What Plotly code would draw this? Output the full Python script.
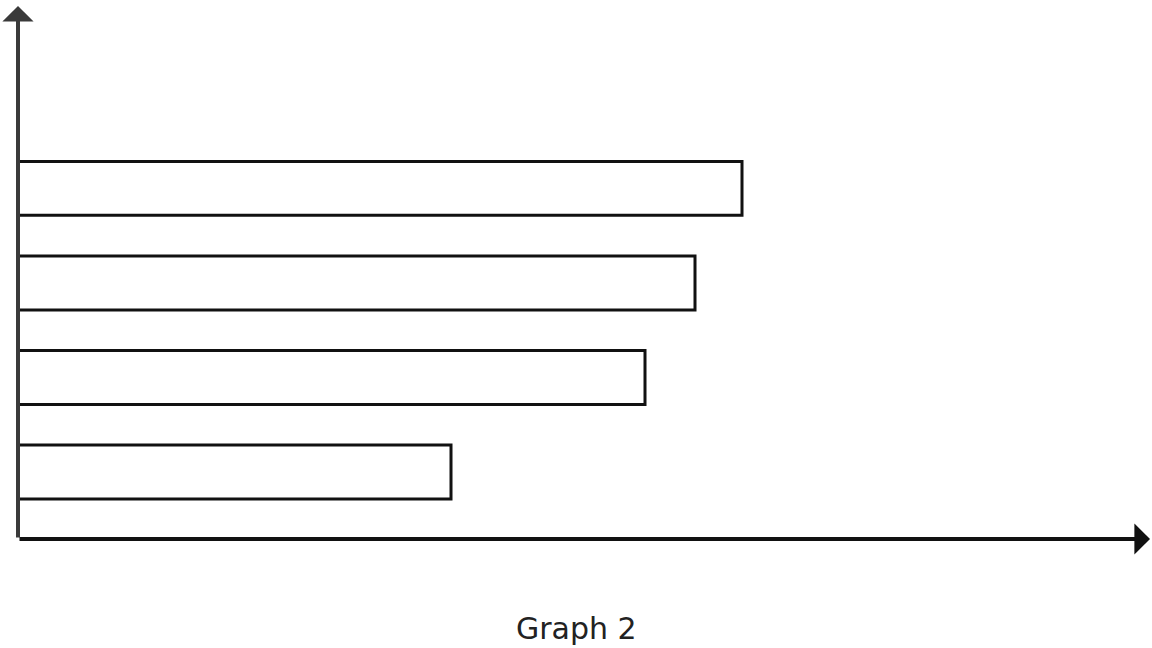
import plotly.graph_objects as go

# Data (bottom to top)
categories = ["D", "C", "B", "A"]
values = [43.3, 62.7, 67.7, 72.4]
title_text = "Graph 2"

X_MAX = 113.2
Y_MIN, Y_MAX = -0.709, 4.93

fig = go.Figure()
fig.add_trace(go.Bar(
    y=categories, x=values, orientation="h",
    marker=dict(color="white", line=dict(color="#111111", width=3)),
    width=0.57, hoverinfo="skip",
))

fig.add_annotation(x=0, y=Y_MAX, ax=0, ay=Y_MIN, xref="x", yref="y", axref="x", ayref="y",
                   showarrow=True, arrowhead=1, arrowwidth=4, arrowsize=1.3,
                   arrowcolor="#3a3a3a", text="")
fig.add_annotation(x=X_MAX, y=Y_MIN, ax=0, ay=Y_MIN, xref="x", yref="y", axref="x", ayref="y",
                   showarrow=True, arrowhead=1, arrowwidth=4, arrowsize=1.3,
                   arrowcolor="#111111", text="")
fig.add_annotation(x=0.4938, y=-0.167, xref="paper", yref="paper", showarrow=False,
                   text=title_text, font=dict(family="DejaVu Sans", size=30, color="#222222"),
                   xanchor="center", yanchor="middle")

fig.update_xaxes(range=[0, X_MAX], visible=False, fixedrange=True)
fig.update_yaxes(range=[Y_MIN, Y_MAX], visible=False, type="category", fixedrange=True)
fig.update_layout(
    width=1152, height=648,
    margin=dict(l=18, r=2, t=6, b=109),
    plot_bgcolor="white", paper_bgcolor="white",
    showlegend=False,
)
fig.write_html("out.html", config={"displayModeBar": False})
